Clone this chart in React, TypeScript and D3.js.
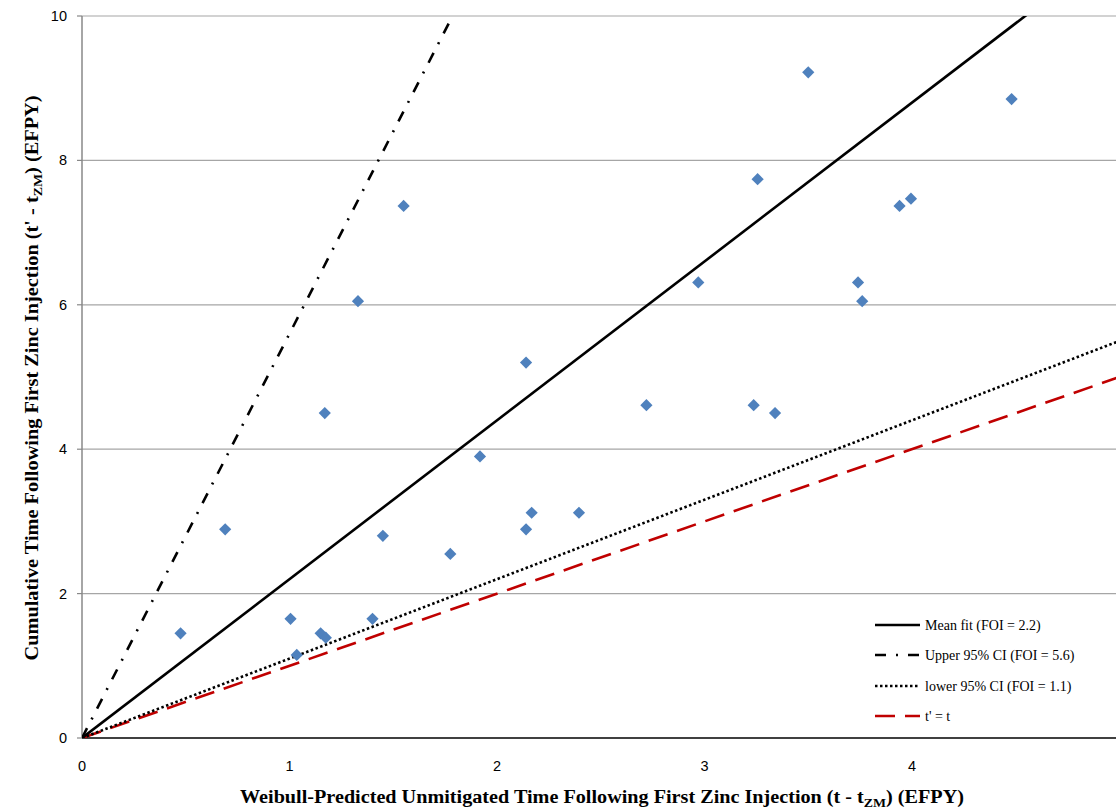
import React, { useEffect, useRef } from "react";
import * as d3 from "d3";

const pointsX = [0.475, 0.69, 1.005, 1.035, 1.15, 1.175, 1.17, 1.33, 1.40, 1.45, 1.55, 1.775, 1.918, 2.14, 2.14, 2.167, 2.395, 2.72, 2.97, 3.237, 3.256, 3.34, 3.50, 3.74, 3.76, 3.94, 3.995, 4.48];
const pointsY = [1.45, 2.89, 1.65, 1.15, 1.45, 1.39, 4.50, 6.05, 1.65, 2.80, 7.37, 2.55, 3.90, 5.20, 2.89, 3.12, 3.12, 4.61, 6.31, 4.61, 7.74, 4.50, 9.22, 6.31, 6.05, 7.37, 7.47, 8.85];

const fitNames = ["Mean fit (FOI = 2.2)", "Upper 95% CI (FOI = 5.6)", "lower 95% CI (FOI = 1.1)", "t' = t"];
const fitSlopes = [2.2, 5.6, 1.1, 1.0];
const fitColors = ["#000000", "#000000", "#000000", "#C00000"];
const fitDash = ["none", "11,10,2,10", "2.5,2.5", "20,10"];

const xTicks = [0, 1, 2, 3, 4];
const yTicks = [0, 2, 4, 6, 8, 10];

export default function App() {
  const ref = useRef<SVGSVGElement>(null);

  useEffect(() => {
    const svg = d3.select(ref.current);
    svg.selectAll("*").remove();
    const x = d3.scaleLinear().domain([0, 5]).range([82, 1119.5]);
    const y = d3.scaleLinear().domain([0, 10]).range([738, 16]);
    const plotRight = 1116;

    svg.append("defs").append("clipPath").attr("id", "plotclip")
      .append("rect").attr("x", 82).attr("y", 16).attr("width", plotRight - 82).attr("height", 722);

    // gridlines
    svg.append("g").selectAll("line").data(yTicks.filter(d => d > 0)).join("line")
      .attr("x1", 82).attr("x2", plotRight)
      .attr("y1", d => y(d)).attr("y2", d => y(d))
      .attr("stroke", "#A6A6A6").attr("stroke-width", 1.2);

    // y axis
    svg.append("line").attr("x1", 82).attr("x2", 82).attr("y1", 16).attr("y2", 738)
      .attr("stroke", "#888").attr("stroke-width", 1.5);
    svg.append("g").selectAll("line").data(yTicks).join("line")
      .attr("x1", 77).attr("x2", 82).attr("y1", d => y(d)).attr("y2", d => y(d))
      .attr("stroke", "#888").attr("stroke-width", 1.2);
    svg.append("g").selectAll("text").data(yTicks).join("text")
      .attr("x", 67).attr("y", d => y(d)).attr("dy", "0.35em")
      .attr("text-anchor", "end")
      .attr("font-family", "'Liberation Sans', Arial, sans-serif").attr("font-size", 14.5)
      .attr("fill", "#000").text(d => String(d));

    // x axis
    svg.append("line").attr("x1", 82).attr("x2", plotRight).attr("y1", 738).attr("y2", 738)
      .attr("stroke", "#000").attr("stroke-width", 1.5);
    svg.append("g").selectAll("text").data(xTicks).join("text")
      .attr("x", d => x(d)).attr("y", 766).attr("dy", "0.35em")
      .attr("text-anchor", "middle")
      .attr("font-family", "'Liberation Sans', Arial, sans-serif").attr("font-size", 14.5)
      .attr("fill", "#000").text(d => String(d));

    // fit lines
    const lg = svg.append("g").attr("clip-path", "url(#plotclip)");
    const lineGen = d3.line<[number, number]>().x(d => x(d[0])).y(d => y(d[1]));
    [3, 2, 1, 0].forEach(i => {
      const s = fitSlopes[i];
      const xEnd = Math.min(5, 10.5 / s);
      lg.append("path")
        .attr("d", lineGen([[0, 0], [xEnd, s * xEnd]]))
        .attr("fill", "none")
        .attr("stroke", fitColors[i])
        .attr("stroke-width", 2.6)
        .attr("stroke-dasharray", fitDash[i]);
    });

    // points
    const sym = d3.symbol().type(d3.symbolDiamond2).size(95);
    svg.append("g").selectAll("path").data(pointsX.map((v, i) => [v, pointsY[i]])).join("path")
      .attr("d", sym as any)
      .attr("transform", d => `translate(${x(d[0])},${y(d[1])})`)
      .attr("fill", "#4F81BD");

    // legend
    const leg = svg.append("g");
    const rowsY = [625, 655, 686, 716];
    fitNames.forEach((name, i) => {
      leg.append("line").attr("x1", 875).attr("x2", 920).attr("y1", rowsY[i]).attr("y2", rowsY[i])
        .attr("stroke", fitColors[i]).attr("stroke-width", 2.6)
        .attr("stroke-dasharray", fitDash[i]);
      leg.append("text").attr("x", 925).attr("y", rowsY[i]).attr("dy", "0.35em")
        .attr("font-family", "'Liberation Serif', 'Times New Roman', serif").attr("font-size", 14)
        .attr("fill", "#000").text(name);
    });

    // axis titles
    const xt = svg.append("text").attr("x", 602).attr("y", 803).attr("text-anchor", "middle")
      .attr("font-family", "'Liberation Serif', 'Times New Roman', serif").attr("font-size", 19)
      .attr("font-weight", "bold").attr("fill", "#000")
      .attr("textLength", 724).attr("lengthAdjust", "spacingAndGlyphs");
    xt.append("tspan").text("Weibull-Predicted Unmitigated Time Following First Zinc Injection (t - t");
    xt.append("tspan").attr("font-size", 13).attr("dy", 4).text("ZM");
    xt.append("tspan").attr("dy", -4).text(") (EFPY)");

    const yt = svg.append("text").attr("transform", "translate(38,378) rotate(-90)").attr("text-anchor", "middle")
      .attr("font-family", "'Liberation Serif', 'Times New Roman', serif").attr("font-size", 19)
      .attr("font-weight", "bold").attr("fill", "#000")
      .attr("textLength", 565).attr("lengthAdjust", "spacingAndGlyphs");
    yt.append("tspan").text("Cumulative Time Following First Zinc Injection (t' - t");
    yt.append("tspan").attr("font-size", 13).attr("dy", 4).text("ZM");
    yt.append("tspan").attr("dy", -4).text(") (EFPY)");
  }, []);

  return (
    <svg ref={ref} width={1116} height={812}
      style={{ position: "absolute", left: 0, top: 0, background: "#fff" }} />
  );
}
